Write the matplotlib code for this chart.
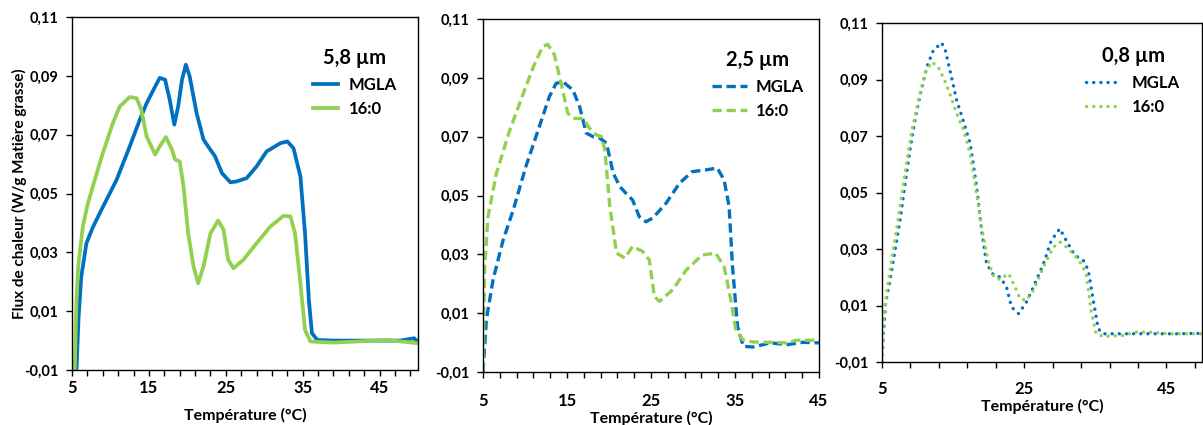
import numpy as np
import matplotlib
matplotlib.use("Agg")
import matplotlib.pyplot as plt

plt.rcParams['font.family'] = ['Lato', 'DejaVu Sans']
plt.rcParams['font.weight'] = 'bold'

blue = '#0070C0'
green = '#92D050'

# ---- 5,8 um ----
t58_mgla = [5.57, 5.85, 6.2, 6.87, 7.7, 8.6, 10.8, 12.5, 13.8, 14.7, 15.6, 16.4, 17.1, 17.7, 18.3, 18.8, 19.3,
            19.8, 20.3, 21.2, 22.1, 22.7, 23.6, 24.5, 25.6, 26.4, 27.7, 29.0, 30.3, 32.1, 33.0, 33.8, 34.7,
            35.3, 35.8, 36.2, 36.9, 39.0, 43.4, 47.7, 49.5, 50.0]
v58_mgla = [-0.01, 0.008, 0.0218, 0.0331, 0.0385, 0.0433, 0.0547, 0.066, 0.075, 0.0807, 0.0853, 0.0893,
            0.0887, 0.0819, 0.0734, 0.0796, 0.0887, 0.0938, 0.0898, 0.0773, 0.0683, 0.066, 0.0626, 0.0569,
            0.0538, 0.0541, 0.0552, 0.0592, 0.0643, 0.0671, 0.0677, 0.0654, 0.0558, 0.0365, 0.0138, 0.0025,
            0.0002, 0.0, 0.0, 0.0, 0.0008, -0.0007]
t58_160 = [5.35, 5.55, 5.8, 6.4, 7.0, 7.7, 9.0, 10.3, 11.2, 12.5, 13.4, 14.0, 14.7, 15.8, 16.4, 17.2, 18.0,
           18.4, 19.0, 19.5, 20.1, 20.8, 21.4, 22.1, 23.0, 24.0, 24.7, 25.3, 26.0, 27.3, 29.0, 30.8, 32.5,
           33.4, 34.0, 34.7, 35.3, 36.0, 39.0, 44.3, 46.0, 50.0]
v58_160 = [-0.01, 0.012, 0.0252, 0.0388, 0.046, 0.0524, 0.0637, 0.0739, 0.0796, 0.0828, 0.0824, 0.0785,
           0.0694, 0.0632, 0.066, 0.0692, 0.0649, 0.0615, 0.0609, 0.0524, 0.0365, 0.0252, 0.0195, 0.0252,
           0.0365, 0.0408, 0.0377, 0.0275, 0.0246, 0.0275, 0.0331, 0.0388, 0.0424, 0.0422, 0.0365, 0.0195,
           0.0036, -0.0003, -0.0007, 0.0, 0.0002, -0.0009]

# ---- 2,5 um ----
t25_mgla = [5.0, 5.4, 6.2, 7.4, 8.6, 10.1, 11.7, 12.9, 13.7, 14.5, 15.7, 16.5, 17.3, 18.1, 18.9, 19.7, 20.5,
            21.3, 22.0, 22.8, 23.6, 24.4, 25.2, 26.8, 28.4, 29.9, 31.5, 32.9, 33.7, 34.3, 34.7, 35.3, 36.0,
            37.2, 39.2, 41.2, 43.1, 45.0]
v25_mgla = [-0.01, 0.0078, 0.0214, 0.0349, 0.0451, 0.0598, 0.0734, 0.0836, 0.0881, 0.0887, 0.0859, 0.0802,
            0.0712, 0.070, 0.0695, 0.0678, 0.0576, 0.053, 0.0508, 0.0485, 0.0428, 0.0411, 0.0423, 0.0474,
            0.0542, 0.0581, 0.0587, 0.0593, 0.0553, 0.0462, 0.0259, 0.0055, -0.0013, -0.0015, -0.0001,
            -0.0007, 0.0001, -0.0001]
t25_160 = [5.0, 5.2, 5.6, 6.6, 8.2, 9.8, 11.0, 12.1, 12.7, 13.5, 14.3, 15.1, 15.9, 16.9, 17.7, 18.5, 19.1,
           19.5, 20.1, 20.9, 21.9, 22.8, 24.0, 24.8, 25.4, 26.0, 27.6, 29.2, 31.1, 32.7, 33.7, 34.5, 35.1,
           35.9, 37.1, 39.1, 41.1, 42.3, 45.0]
v25_160 = [-0.01, 0.0259, 0.0429, 0.0576, 0.0723, 0.0847, 0.0938, 0.1006, 0.1014, 0.0978, 0.0881, 0.0779,
           0.0762, 0.0762, 0.0728, 0.0706, 0.070, 0.0655, 0.0462, 0.0304, 0.0287, 0.0327, 0.031, 0.0281,
           0.0157, 0.014, 0.018, 0.0247, 0.0298, 0.0304, 0.0259, 0.0146, 0.0044, 0.001, 0.0002, 0.0001,
           -0.0001, 0.0008, 0.0008]

# ---- 0,8 um ----
t08_mgla = [5.0, 5.2, 5.5, 6.2, 6.9, 7.6, 8.3, 9.0, 9.7, 10.4, 11.3, 12.2, 13.4, 13.9, 14.6, 15.5, 16.4, 17.4,
            18.3, 19.0, 19.7, 20.7, 21.6, 22.5, 23.2, 24.2, 25.3, 26.3, 27.7, 28.8, 30.0, 30.9, 32.1, 33.3,
            34.0, 34.7, 35.4, 36.1, 38.9, 42.1, 46.8, 49.4, 50.0]
v08_mgla = [-0.01, 0.0, 0.0107, 0.0201, 0.0307, 0.0413, 0.0543, 0.0661, 0.0767, 0.085, 0.0944, 0.1003, 0.103,
            0.1003, 0.0927, 0.0826, 0.0756, 0.0673, 0.052, 0.0366, 0.0248, 0.0207, 0.0201, 0.0166, 0.0095,
            0.0071, 0.0112, 0.0166, 0.0248, 0.033, 0.0372, 0.033, 0.0278, 0.026, 0.0225, 0.0119, 0.0018, 0.0,
            0.0, 0.0, 0.0, 0.0002, -0.0018]
t08_160 = [5.0, 5.2, 5.7, 6.4, 7.1, 7.8, 8.5, 9.2, 10.1, 11.1, 12.0, 12.9, 13.9, 14.6, 15.5, 16.4, 17.4, 18.3,
           19.0, 19.9, 20.7, 21.6, 22.8, 23.7, 24.4, 25.3, 26.3, 27.7, 29.1, 30.0, 30.9, 32.1, 33.0, 33.7,
           34.4, 35.1, 36.1, 38.9, 40.7, 42.6, 45.4, 50.0]
v08_160 = [-0.01, 0.0048, 0.0154, 0.0272, 0.0378, 0.0496, 0.0614, 0.072, 0.0826, 0.0927, 0.0962, 0.0944,
           0.0891, 0.0844, 0.0779, 0.0726, 0.0637, 0.0496, 0.0378, 0.026, 0.0201, 0.0192, 0.0213, 0.0166,
           0.0124, 0.0118, 0.0154, 0.0237, 0.0307, 0.0325, 0.0307, 0.0278, 0.0248, 0.0213, 0.0083, 0.0,
           -0.0009, -0.0006, 0.0006, 0.0006, 0.0, 0.0]

yticks = [-0.01, 0.01, 0.03, 0.05, 0.07, 0.09, 0.11]
ylabels = [('%.2f' % v).replace('.', ',') for v in yticks]


def setup(ax, xmax, major, minor, xpad, xlab_y):
    ax.set_xlim(5, xmax)
    ax.set_ylim(-0.01, 0.11)
    ax.set_xticks(np.arange(5, xmax + 0.1, major))
    ax.set_xticks(np.arange(5, xmax + 0.1, minor), minor=True)
    ax.set_yticks(yticks)
    ax.set_yticklabels(ylabels)
    ax.tick_params(axis='x', which='both', direction='out', length=4, width=1, pad=xpad, labelsize=12)
    ax.tick_params(axis='y', direction='out', length=4, width=1, pad=6, labelsize=10.5)
    for s in ax.spines.values():
        s.set_linewidth(1)
        s.set_color('black')
    ax.set_xlabel('Température (°C)', fontsize=11.5, fontweight='bold')
    ax.xaxis.set_label_coords(0.5, xlab_y)


def add_legend(ax, title, anchor, hlen, hpad):
    ax.legend(title=title, loc='upper right', bbox_to_anchor=anchor, frameon=False,
              borderpad=0, handlelength=hlen, handletextpad=hpad, labelspacing=0.5,
              prop={'size': 12, 'weight': 'bold'},
              title_fontproperties={'size': 14.5, 'weight': 'bold'})


fig = plt.figure(figsize=(12.03, 4.25), dpi=100)

ax1 = fig.add_axes([0.0599, 0.1294, 0.2876, 0.8306])
ax1.plot(t58_mgla, v58_mgla, color=blue, lw=2.7, label='MGLA')
ax1.plot(t58_160, v58_160, color=green, lw=2.7, label='16:0')
setup(ax1, 50, 10, 2, 3, -0.107)
ax1.set_ylabel('Flux de chaleur (W/g Matière grasse)', fontsize=11, fontweight='bold')
ax1.yaxis.set_label_coords(-0.13, 0.5)
add_legend(ax1, '5,8 µm', (0.962, 0.935), 1.5, 0.6)

ax2 = fig.add_axes([0.4015, 0.1247, 0.2793, 0.8306])
ax2.plot(t25_mgla, v25_mgla, color=blue, lw=2.4, dashes=(2.8, 1.4), label='MGLA')
ax2.plot(t25_160, v25_160, color=green, lw=2.4, dashes=(2.8, 1.4), label='16:0')
setup(ax2, 45, 10, 2, 11, -0.11)
add_legend(ax2, '2,5 µm', (0.979, 0.935), 2.1, 0.5)

ax3 = fig.add_axes([0.7332, 0.1482, 0.2660, 0.7976])
ax3.plot(t08_mgla, v08_mgla, color=blue, lw=2.4, linestyle=(0, (0.05, 2.1)), dash_capstyle='round', label='MGLA')
ax3.plot(t08_160, v08_160, color=green, lw=2.4, linestyle=(0, (0.05, 2.1)), dash_capstyle='round', label='16:0')
setup(ax3, 50, 20, 4, 10, -0.11)
add_legend(ax3, '0,8 µm', (0.956, 0.956), 2.0, 0.7)

fig.savefig('out.png', dpi=100)
